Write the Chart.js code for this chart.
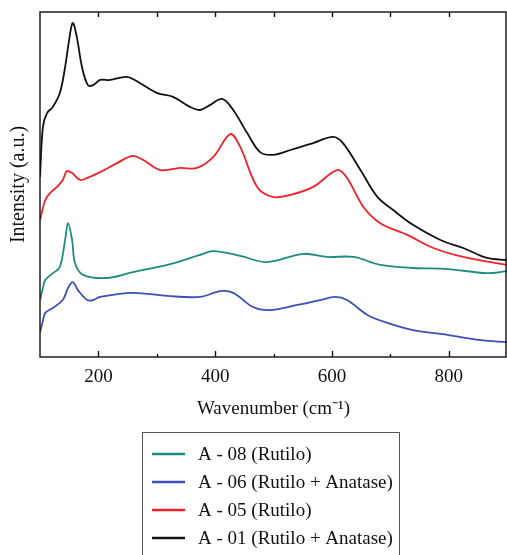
<!DOCTYPE html>
<html>
<head>
<meta charset="utf-8">
<script src="https://cdn.jsdelivr.net/npm/chart.js@4.4.1/dist/chart.umd.min.js"></script>
<style>
html, body { margin: 0; padding: 0; background: #fff; }
canvas { display: block; }
</style>
</head>
<body>
<canvas id="raman" width="507" height="555"></canvas>
<script>
var labels = ['A - 08 (Rutilo)', 'A - 06 (Rutilo + Anatase)', 'A - 05 (Rutilo)', 'A - 01 (Rutilo + Anatase)'];
var colors = ['#1f8a80', '#3d4fb8', '#ee2229', '#111111'];
var majorTicks = [200, 400, 600, 800];
var minorTicks = [300, 500, 700];

// A - 08 (Rutilo)
var a08X = [100, 105, 109, 122, 134, 143, 148, 155, 160, 174, 215, 259, 318, 374, 397, 443, 489, 551, 592, 637, 683, 739, 798, 866, 900];
var a08Y = [16.5, 20, 22.3, 24.3, 26.1, 33.9, 38.8, 33.9, 27.2, 23.8, 22.9, 24.6, 26.7, 29.6, 30.7, 29.3, 27.5, 29.9, 29, 29, 26.7, 25.8, 25.5, 24.3, 24.9];
// A - 06 (Rutilo + Anatase)
var a06X = [100, 105, 109, 122, 139, 148, 156, 165, 181, 191, 203, 259, 318, 374, 409, 431, 465, 494, 541, 580, 606, 626, 661, 695, 739, 798, 854, 900];
var a06Y = [7.2, 10.5, 12.8, 14.2, 16.5, 20, 21.7, 19.4, 16.5, 16.5, 17.4, 18.6, 17.7, 17.4, 19.1, 18.6, 14.5, 13.6, 15.1, 16.5, 17.4, 16.5, 12.2, 9.9, 7.8, 6.4, 4.9, 4.3];
// A - 05 (Rutilo)
var a05X = [100, 109, 117, 129, 139, 146, 155, 169, 181, 203, 232, 258, 277, 306, 340, 369, 397, 426, 443, 472, 499, 529, 568, 609, 626, 654, 683, 729, 774, 825, 900];
var a05Y = [39.7, 45.5, 47.5, 49.3, 51.3, 53.9, 53.3, 51.3, 51.9, 53.6, 56.2, 58.3, 57.1, 54.2, 54.8, 54.8, 58, 64.6, 60.9, 49.3, 46.4, 47, 49.3, 54.2, 51.9, 43.5, 38.8, 35.4, 31.6, 29, 26.7];
// A - 01 (Rutilo + Anatase)
var a01X = [100, 105, 112, 122, 134, 143, 149, 156, 163, 172, 182, 191, 203, 220, 249, 271, 301, 328, 357, 374, 391, 412, 431, 455, 477, 499, 529, 568, 602, 619, 649, 678, 705, 739, 786, 825, 866, 900];
var a01Y = [52.2, 66.7, 70.7, 72.5, 76.5, 84, 90.9, 96.8, 92.8, 84, 78.8, 78.8, 80.3, 80.3, 81.2, 79.4, 76.5, 75.4, 72.5, 71.6, 73, 74.8, 71.6, 64.9, 59.4, 58.6, 60, 62, 63.8, 62, 54.2, 46.4, 42.6, 38.3, 33.9, 31.6, 28.7, 28.1];

function pts(xs, ys) {
    var out = [];
    for (var i = 0; i < xs.length; i++) out.push({x: xs[i], y: ys[i]});
    return out;
}

var series = [pts(a08X, a08Y), pts(a06X, a06Y), pts(a05X, a05Y), pts(a01X, a01Y)];
var datasets = [];
for (var i = 0; i < series.length; i++) {
    datasets.push({
        label: labels[i],
        data: series[i],
        borderColor: colors[i],
        backgroundColor: colors[i],
        borderWidth: 1.8,
        pointRadius: 0,
        tension: 0.35,
        fill: false
    });
}

var serif = "'Liberation Serif', 'Times New Roman', serif";

// frame with inward ticks, like the original plot
var framePlugin = {
    id: 'frame',
    afterDraw: function(chart) {
        var ctx = chart.ctx;
        var a = chart.chartArea;
        var xs = chart.scales.x;
        ctx.save();
        ctx.strokeStyle = '#111';
        ctx.lineWidth = 1.4;
        ctx.strokeRect(a.left, a.top, a.right - a.left - 1, a.bottom - a.top);
        ctx.beginPath();
        majorTicks.forEach(function(v) {
            var px = Math.round(xs.getPixelForValue(v)) + 0.5;
            ctx.moveTo(px, a.bottom); ctx.lineTo(px, a.bottom - 6);
            ctx.moveTo(px, a.top); ctx.lineTo(px, a.top + 5);
        });
        minorTicks.forEach(function(v) {
            var px = Math.round(xs.getPixelForValue(v)) + 0.5;
            ctx.moveTo(px, a.bottom); ctx.lineTo(px, a.bottom - 3);
            ctx.moveTo(px, a.top); ctx.lineTo(px, a.top + 5);
        });
        ctx.stroke();
        ctx.restore();
    }
};

// boxed vertical legend under the axis title
var boxLegend = {
    id: 'boxLegend',
    afterDraw: function(chart) {
        var ctx = chart.ctx;
        ctx.save();
        ctx.strokeStyle = '#555';
        ctx.lineWidth = 1;
        ctx.strokeRect(142.5, 432.5, 257, 140);
        ctx.font = '19px ' + serif;
        ctx.textBaseline = 'middle';
        ctx.fillStyle = '#111';
        chart.data.datasets.forEach(function(ds, k) {
            var y = 454 + k * 28;
            ctx.strokeStyle = ds.borderColor;
            ctx.lineWidth = 2.5;
            ctx.beginPath();
            ctx.moveTo(152, y); ctx.lineTo(185, y);
            ctx.stroke();
            ctx.fillText(ds.label, 198, y + 1);
        });
        ctx.restore();
    }
};

var ctx = document.getElementById('raman').getContext('2d');
var chart = new Chart(ctx, {
    type: 'line',
    data: { datasets: datasets },
    options: {
        responsive: false,
        animation: false,
        layout: { padding: { top: 12, right: 0, left: 0, bottom: 133 } },
        plugins: { legend: { display: false }, tooltip: { enabled: false } },
        scales: {
            x: {
                type: 'linear',
                min: 100,
                max: 900,
                afterBuildTicks: function(s) {
                    s.ticks = majorTicks.map(function(v) { return {value: v}; });
                },
                afterFit: function(s) { s.height = 65; },
                grid: { display: false },
                border: { display: false },
                ticks: { color: '#111', padding: 1, maxRotation: 0, font: { family: serif, size: 19 } },
                title: {
                    display: true,
                    text: 'Wavenumber (cm\u207B\u00B9)',
                    color: '#111',
                    padding: { top: 0, bottom: 2 },
                    font: { family: serif, size: 19 }
                }
            },
            y: {
                type: 'linear',
                min: 0,
                max: 100,
                afterFit: function(s) { s.width = 40; },
                grid: { display: false },
                border: { display: false },
                ticks: { display: false },
                title: {
                    display: true,
                    text: 'Intensity (a.u.)',
                    color: '#111',
                    padding: { top: 7, bottom: 0 },
                    font: { family: serif, size: 20 }
                }
            }
        }
    },
    plugins: [framePlugin, boxLegend]
});
</script>
</body>
</html>
